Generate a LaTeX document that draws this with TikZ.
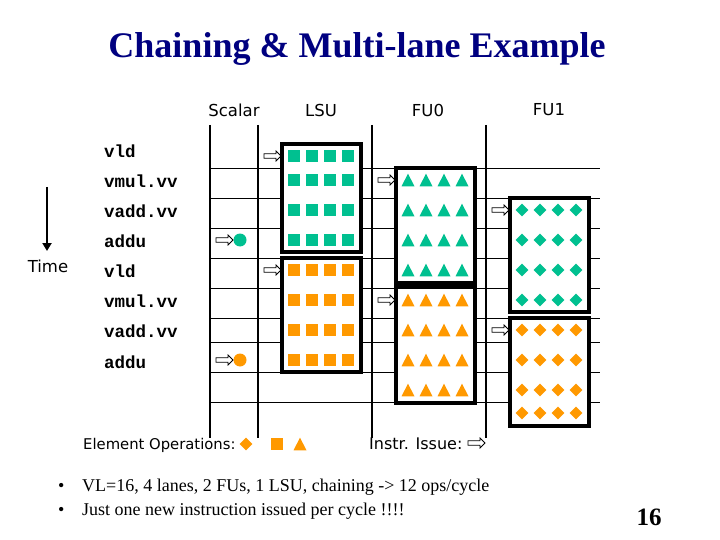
\documentclass[tikz,border=0pt]{standalone}
\usepackage{fontspec}
\setmainfont{Liberation Serif}
\newfontfamily\comicfont{DejaVu Sans}
\newfontfamily\codefont{Liberation Mono}
\usetikzlibrary{arrows.meta}
\definecolor{tealop}{RGB}{0,192,144}
\definecolor{orangeop}{RGB}{255,153,0}
\definecolor{titleblue}{RGB}{0,0,128}
\begin{document}
\begin{tikzpicture}[x=1pt,y=-1pt,
  gridv/.style={line width=2pt},
  gridh/.style={line width=0.9pt},
  unitbox/.style={draw=black, line width=3.5pt, fill=white},
  instr/.style={font=\codefont\bfseries\fontsize{17.5}{20}\selectfont, anchor=west, inner sep=0pt},
  hdr/.style={font=\comicfont\fontsize{16.5}{19}\selectfont, inner sep=0pt},
  note/.style={font=\comicfont\fontsize{14.8}{17}\selectfont, inner sep=0pt, anchor=west},
  bullet/.style={font=\fontsize{18}{21}\selectfont, inner sep=0pt, anchor=west},
  pics/sqop/.style={code={\path[pic actions] (-6,-6) rectangle (6,6);}},
  pics/triop/.style={code={\path[pic actions] (-6.5,6.3) -- (6.5,6.3) -- (0,-6.3) -- cycle;}},
  pics/diaop/.style={code={\path[pic actions] (-6.3,0) -- (0,-6.3) -- (6.3,0) -- (0,6.3) -- cycle;}},
  pics/issue/.style={code={\path[draw=black, fill=white, line width=0.8pt]
      (0,0) -- (-5,-5) -- (-5,-2.2) -- (-17,-2.2) -- (-17,2.2) -- (-5,2.2) -- (-5,5) -- cycle;}}
]
\useasboundingbox[fill=white] (0,0) rectangle (720,540);

% title
\node[font=\bfseries\fontsize{36}{40}\selectfont, text=titleblue, inner sep=0pt] (title) at (357,49) {Chaining \& Multi-lane Example};

% column headers
\node[hdr] (hScalar) at (234,110) {Scalar};
\node[hdr] (hLSU) at (321,110) {LSU};
\node[hdr] (hFU0) at (428,110) {FU0};
\node[hdr] (hFU1) at (549,110) {FU1};

% grid
\foreach \yy in {168,198,228,258,288,318,342,372,402}
  \draw[gridh] (210,\yy) -- (600,\yy);
\foreach \xx in {210,258,372,486}
  \draw[gridv] (\xx,125) -- (\xx,438);

% unit boxes
\draw[unitbox] (282,144) rectangle (361,252);
\draw[unitbox] (282,258) rectangle (361,372);
\draw[unitbox] (396,168) rectangle (475,283);
\draw[unitbox] (396,287) rectangle (475,403);
\draw[unitbox] (510,198) rectangle (589,312);
\draw[unitbox] (510,318) rectangle (589,426);

% instruction labels
\node[instr] (i1) at (104,151) {vld};
\node[instr] (i2) at (104,181) {vmul.vv};
\node[instr] (i3) at (104,211) {vadd.vv};
\node[instr] (i4) at (104,241) {addu};
\node[instr] (i5) at (104,271) {vld};
\node[instr] (i6) at (104,301) {vmul.vv};
\node[instr] (i7) at (104,331) {vadd.vv};
\node[instr] (i8) at (104,362) {addu};

% LSU element ops
\foreach \yy in {156,180,210,240}
  \foreach \xx in {294,312,330,348}
    \pic[fill=tealop] at (\xx,\yy) {sqop};
\foreach \yy in {270,300,330,360}
  \foreach \xx in {294,312,330,348}
    \pic[fill=orangeop] at (\xx,\yy) {sqop};
% FU0 element ops
\foreach \yy in {180,210,240,270}
  \foreach \xx in {408,426,444,462}
    \pic[fill=tealop] at (\xx,\yy) {triop};
\foreach \yy in {300,330,360,390}
  \foreach \xx in {408,426,444,462}
    \pic[fill=orangeop] at (\xx,\yy) {triop};
% FU1 element ops
\foreach \yy in {210,240,270,300}
  \foreach \xx in {522,540,558,576}
    \pic[fill=tealop] at (\xx,\yy) {diaop};
\foreach \yy in {330,360,390,413}
  \foreach \xx in {522,540,558,576}
    \pic[fill=orangeop] at (\xx,\yy) {diaop};

% scalar ops
\fill[tealop] (240,240) circle (6.5);
\fill[orangeop] (240,360) circle (6.5);

% instruction issue arrows
\pic at (281,156) {issue};
\pic at (395,180) {issue};
\pic at (509,210) {issue};
\pic at (233,240) {issue};
\pic at (281,270) {issue};
\pic at (395,300) {issue};
\pic at (509,330) {issue};
\pic at (233,360) {issue};

% time arrow
\coordinate (tstart) at (47,187);
\coordinate (tend) at (47,251);
\draw[line width=2pt, -{Triangle[length=8pt,width=9pt]}] (tstart) -- (tend);
\node[hdr] (time) at (48,266) {Time};

% legend
\node[note] (elops) at (83,445) {Element Operations:};
\pic[fill=orangeop] at (246,444) {diaop};
\pic[fill=orangeop] at (277,444) {sqop};
\pic[fill=orangeop] at (300,444) {triop};
\node[note, font=\comicfont\fontsize{16}{19}\selectfont] (iissue) at (369,444) {Instr. Issue:};
\pic at (485,443) {issue};

% bullets
\node[bullet] (b1) at (58,487) {\textbullet};
\node[bullet] (t1) at (82,487) {VL=16, 4 lanes, 2 FUs, 1 LSU, chaining -> 12 ops/cycle};
\node[bullet] (b2) at (58,511) {\textbullet};
\node[bullet] (t2) at (82,511) {Just one new instruction issued per cycle !!!!};

\node[font=\bfseries\fontsize{25}{28}\selectfont, inner sep=0pt] (pagenum) at (649,517) {16};
\end{tikzpicture}
\end{document}
